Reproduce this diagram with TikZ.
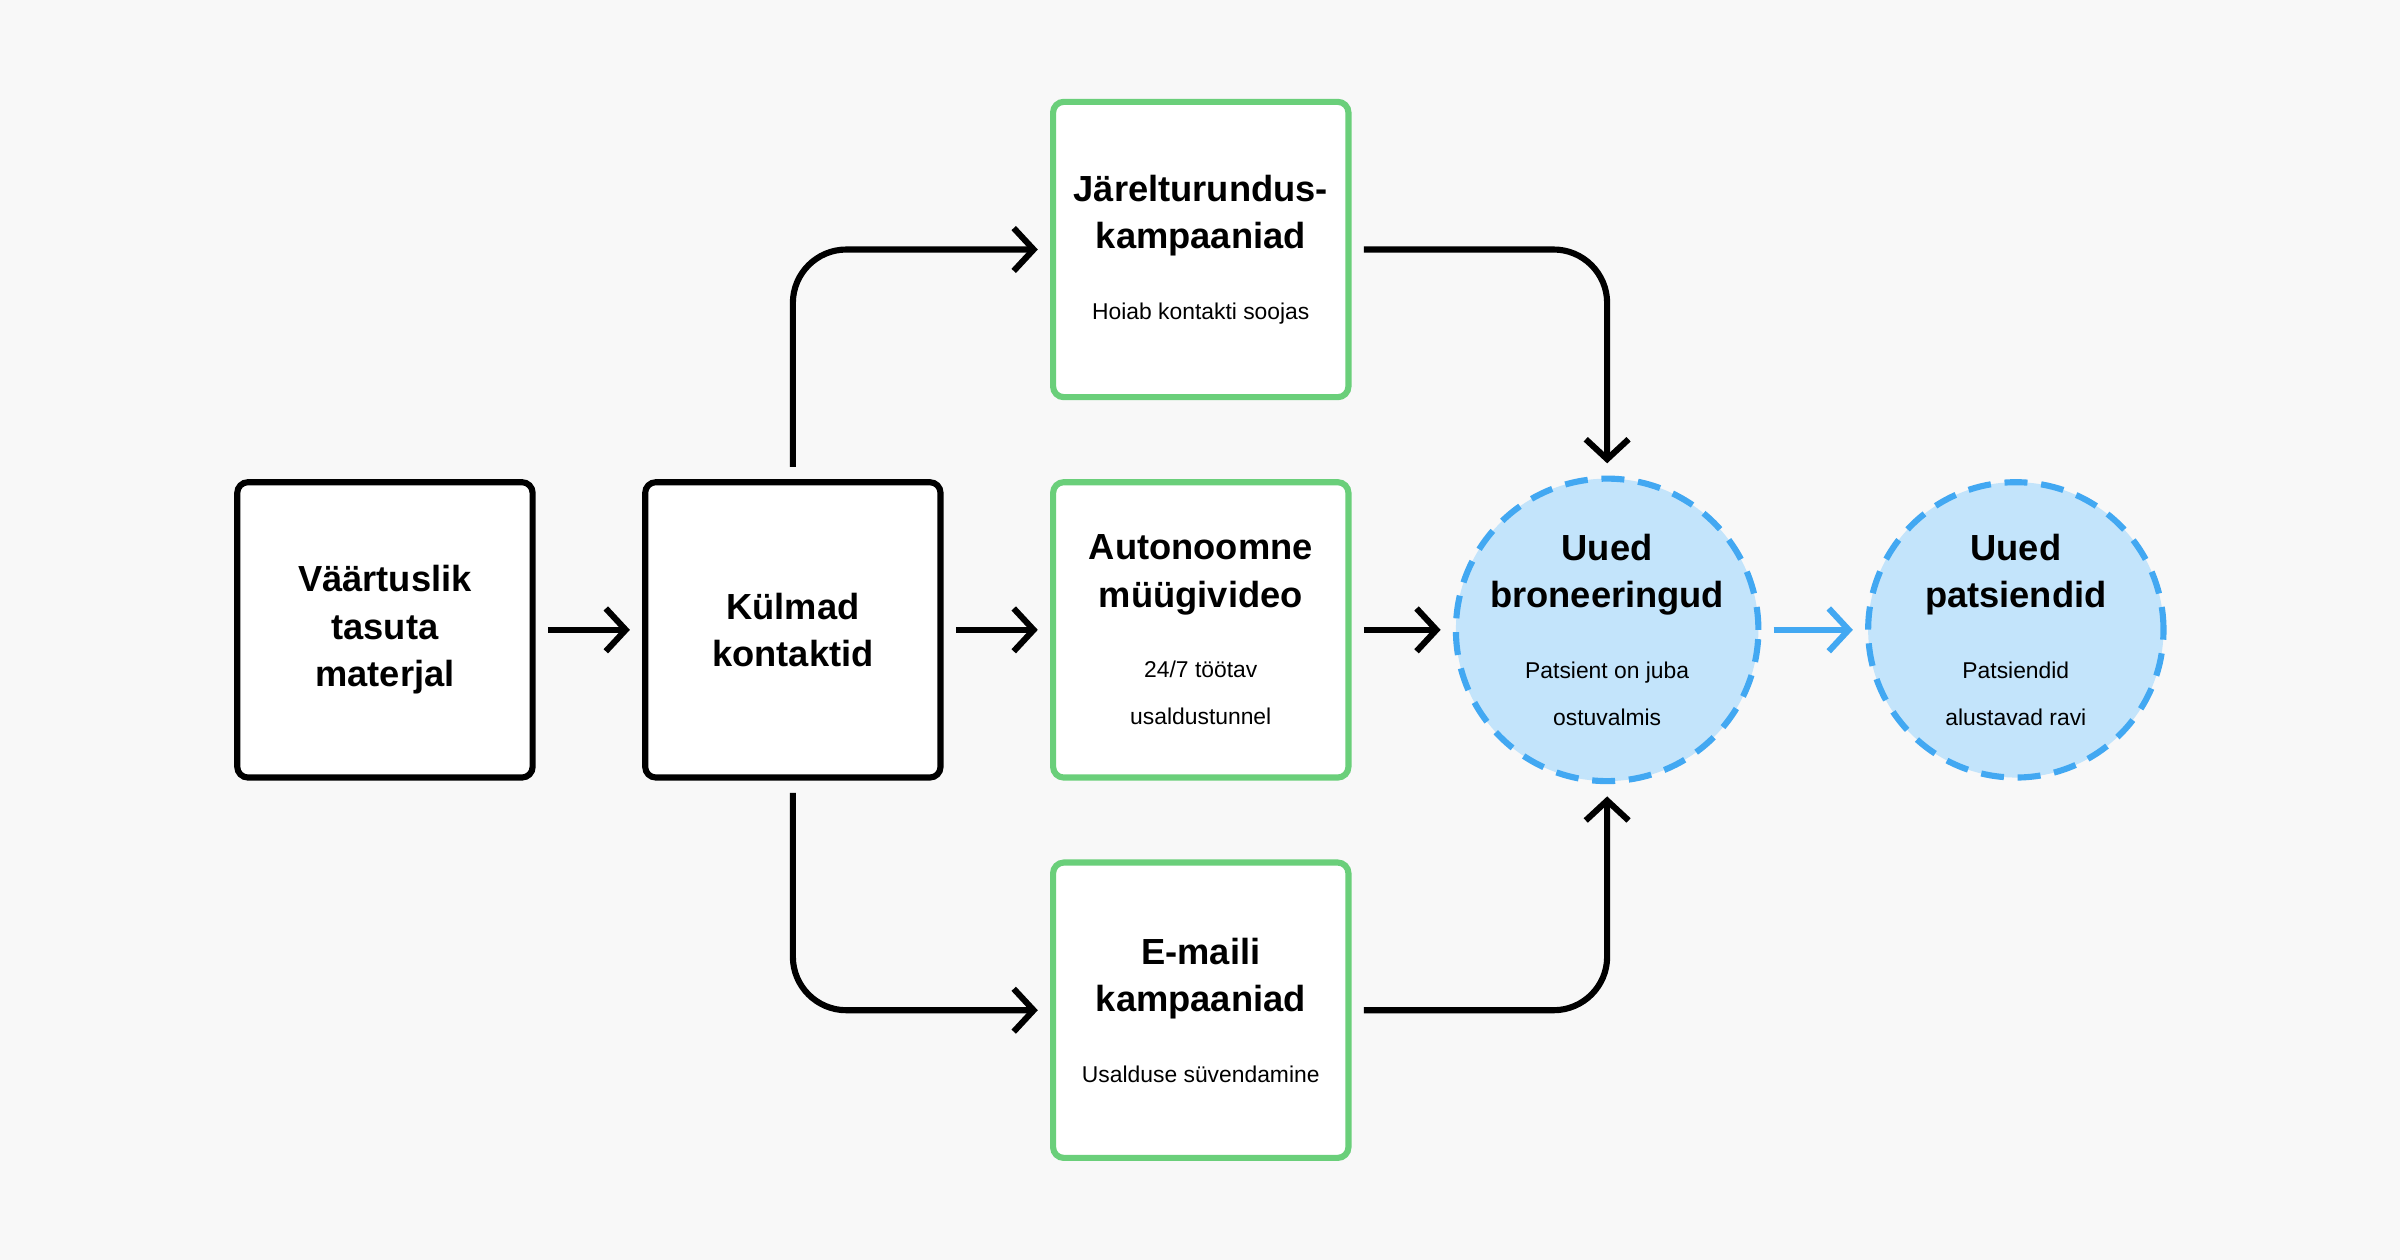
\documentclass[tikz,border=0pt]{standalone}
\usepackage{fontspec}
\setmainfont{Liberation Sans}
\usetikzlibrary{arrows.meta,positioning}
\definecolor{bgcol}{HTML}{F8F8F8}
\definecolor{greenline}{HTML}{6ACF7A}
\definecolor{bluefill}{HTML}{C3E4FB}
\definecolor{blueline}{HTML}{42A8F2}
\newcommand{\boxtitle}{\bfseries\fontsize{13.5}{17.6}\selectfont}
\newcommand{\boxnote}{\fontsize{8.5}{11.5}\selectfont\mdseries}

\begin{document}
\begin{tikzpicture}[x=0.02cm, y=-0.02cm,
    box/.style={draw, line width=0.08cm, rounded corners=0.14cm, fill=white,
      minimum size=3.86cm, align=center, inner sep=0pt, font=\boxtitle},
    stage/.style={box, draw=black},
    channel/.style={box, draw=greenline},
    goal/.style={circle, draw=blueline, fill=bluefill, line width=0.08cm, font=\boxtitle,
      dash pattern=on 0.3cm off 0.18cm, minimum size=3.86cm, align=center, inner sep=0pt},
    arrow/.style={line width=0.08cm, rounded corners=0.7cm,
      -{Straight Barb[length=0.26cm, width=0.56cm, line width=0.08cm]}}
]

% Background
\fill[bgcol] (0,0) rectangle (1568,823);

% Stages
\node[stage] (material) at (251.5,411.5) {Väärtuslik\\tasuta\\materjal};
\node[stage] (contacts) at (518,411.5) {Külmad\\kontaktid};

% Channels
\node[channel] (retarget) at (784.5,163) {Järelturundus-\\kampaaniad\\[0.3cm]\boxnote Hoiab kontakti soojas};
\node[channel] (video) at (784.5,411.5) {Autonoomne\\müügivideo\\[0.3cm]\boxnote 24/7 töötav\\\boxnote usaldustunnel};
\node[channel] (email) at (784.5,660) {E-maili\\kampaaniad\\[0.3cm]\boxnote Usalduse süvendamine};

% Goals
\node[goal] (bookings) at (1050,411.5) {Uued\\broneeringud\\[0.3cm]\boxnote Patsient on juba\\\boxnote ostuvalmis};
\node[goal] (patients) at (1317,411.5) {Uued\\patsiendid\\[0.3cm]\boxnote Patsiendid\\\boxnote alustavad ravi};

% Connectors
\draw[arrow] ([xshift=0.16cm]material.east) -- ([xshift=-0.16cm]contacts.west);
\draw[arrow] ([xshift=0.16cm]contacts.east) -- ([xshift=-0.16cm]video.west);
\draw[arrow] ([xshift=0.16cm]video.east) -- ([xshift=-0.16cm]bookings.west);
\draw[arrow, blueline] ([xshift=0.16cm]bookings.east) -- ([xshift=-0.16cm]patients.west);
\draw[arrow] ([yshift=0.16cm]contacts.north) |- ([xshift=-0.16cm]retarget.west);
\draw[arrow] ([yshift=-0.16cm]contacts.south) |- ([xshift=-0.16cm]email.west);
\draw[arrow] ([xshift=0.16cm]retarget.east) -| ([yshift=0.16cm]bookings.north);
\draw[arrow] ([xshift=0.16cm]email.east) -| ([yshift=-0.16cm]bookings.south);

\end{tikzpicture}
\end{document}
